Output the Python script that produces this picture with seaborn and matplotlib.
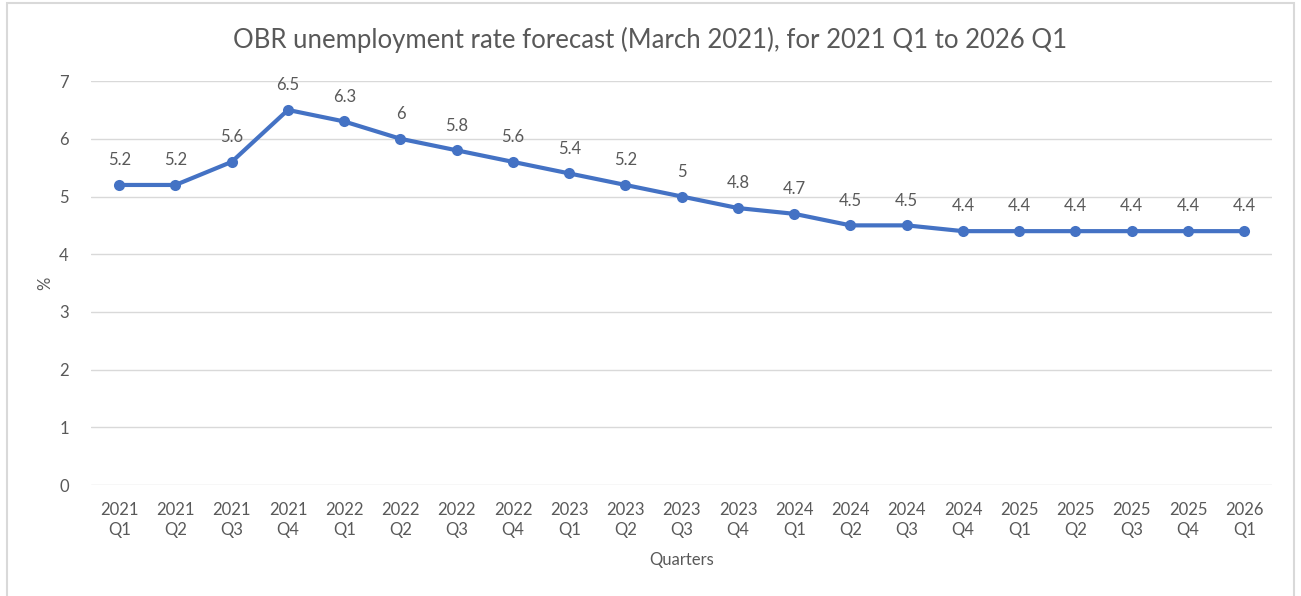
import numpy as np
import pandas as pd
import seaborn as sns
import matplotlib.pyplot as plt
from matplotlib.patches import Rectangle

quarters = ["2021\nQ1", "2021\nQ2", "2021\nQ3", "2021\nQ4",
            "2022\nQ1", "2022\nQ2", "2022\nQ3", "2022\nQ4",
            "2023\nQ1", "2023\nQ2", "2023\nQ3", "2023\nQ4",
            "2024\nQ1", "2024\nQ2", "2024\nQ3", "2024\nQ4",
            "2025\nQ1", "2025\nQ2", "2025\nQ3", "2025\nQ4",
            "2026\nQ1"]
rate = [5.2, 5.2, 5.6, 6.5, 6.3, 6.0, 5.8, 5.6, 5.4, 5.2, 5.0, 4.8,
        4.7, 4.5, 4.5, 4.4, 4.4, 4.4, 4.4, 4.4, 4.4]
yticks = [0, 1, 2, 3, 4, 5, 6, 7]

df = pd.DataFrame({"quarter": quarters, "rate": rate})

sns.set_theme(style="white")
plt.rcParams['font.family'] = ['Lato', 'DejaVu Sans']

grey = "#595959"
blue = "#4472C4"

fig = plt.figure(figsize=(13.01, 5.96), dpi=100)
ax = fig.add_axes([0.070, 0.186, 0.908, 0.678])

sns.lineplot(data=df, x="quarter", y="rate", ax=ax, color=blue,
             linewidth=3, marker="o", markersize=8, markeredgewidth=0,
             sort=False)

# data labels
for i, v in enumerate(rate):
    lbl = "{:g}".format(v)
    ax.annotate(lbl, (i, v), xytext=(0, 12), textcoords="offset points",
                ha="center", va="bottom", fontsize=12, color=grey)

ax.set_xlim(-0.5, len(quarters) - 0.5)
ax.set_ylim(0, 7)
ax.set_yticks(yticks)
ax.set_xticks(range(len(quarters)))
ax.set_xticklabels(quarters, linespacing=1.3)
ax.tick_params(axis="both", length=0, labelsize=12, labelcolor=grey)
ax.tick_params(axis="x", pad=12)
ax.tick_params(axis="y", pad=16)
ax.grid(axis="y", color="#D9D9D9", linewidth=1)
ax.set_axisbelow(True)
for s in ax.spines.values():
    s.set_visible(False)

ax.set_xlabel("Quarters", fontsize=12, color=grey, labelpad=10)
ax.set_ylabel("%", fontsize=12, color=grey, labelpad=4)
fig.suptitle("OBR unemployment rate forecast (March 2021), for 2021 Q1 to 2026 Q1",
             x=0.5, y=0.955, fontsize=18.5, color=grey)

# outer chart frame
fig.patches.append(Rectangle((0.005, -0.05), 0.99, 1.045, transform=fig.transFigure,
                             fill=False, edgecolor="#D9D9D9", linewidth=1.5))

fig.savefig("out.png", dpi=100)
